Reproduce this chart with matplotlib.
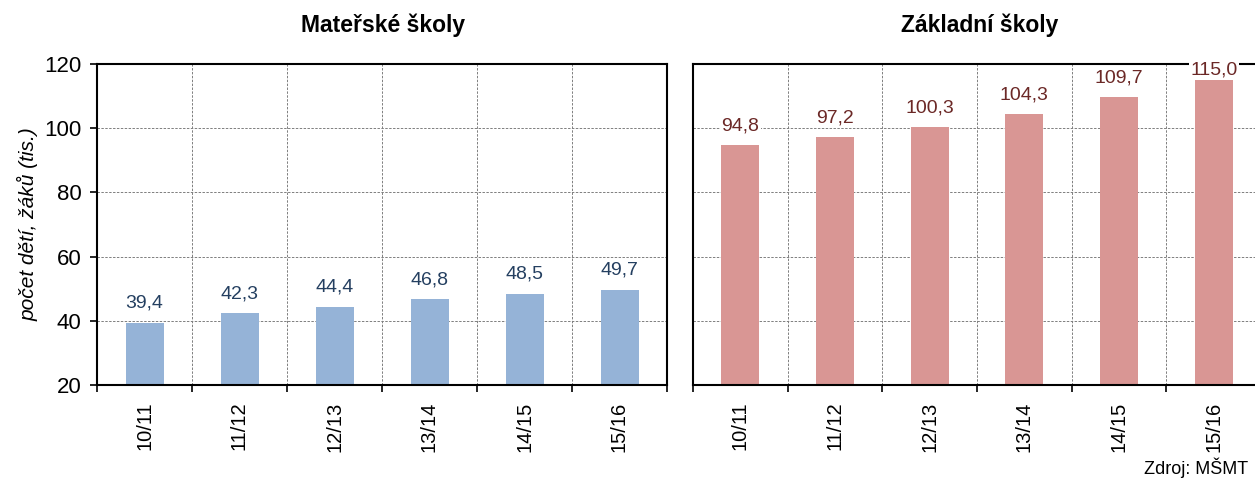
import matplotlib
matplotlib.use("Agg")
import matplotlib.pyplot as plt
import numpy as np

plt.rcParams['font.family'] = ['Liberation Sans', 'DejaVu Sans']

years = ["10/11", "11/12", "12/13", "13/14", "14/15", "15/16"]
ms_values = [39.4, 42.3, 44.4, 46.8, 48.5, 49.7]
zs_values = [94.8, 97.2, 100.3, 104.3, 109.7, 115.0]
titles = ["Mateřské školy", "Základní školy"]
ylabel = "počet dětí, žáků (tis.)"
source = "Zdroj: MŠMT"
yticks = [20, 40, 60, 80, 100, 120]

W, H = 1255, 478
fig = plt.figure(figsize=(W / 100, H / 100), dpi=100)

def box(x0, x1, ytop, ybot):
    return [x0 / W, 1 - ybot / H, (x1 - x0) / W, (ybot - ytop) / H]

ax1 = fig.add_axes(box(97, 667, 64, 385))
ax2 = fig.add_axes(box(693, 1261, 64, 385))

specs = [
    (ax1, ms_values, "#95B3D7", "#243F60", titles[0], 383),
    (ax2, zs_values, "#D99694", "#6B2826", titles[1], 980),
]

x = np.arange(len(years))
for ax, vals, bc, tc, title, tx in specs:
    ax.set_axisbelow(True)
    ax.bar(x, vals, width=0.4, color=bc, zorder=2)
    ax.set_xlim(-0.5, len(years) - 0.5)
    ax.set_ylim(20, 120)
    ax.set_yticks(yticks)
    ax.set_xticks(x)
    ax.set_xticklabels(years, rotation=90, fontsize=14.5)
    ax.set_xticks(np.arange(len(years) + 1) - 0.5, minor=True)
    ax.tick_params(axis='x', which='major', length=0, pad=12)
    ax.tick_params(axis='x', which='minor', length=5, width=1.2, direction='out')
    ax.grid(True, axis='y', which='major', color='#7f7f7f', linestyle=(0, (2.5, 1.5)), linewidth=0.7)
    ax.grid(True, axis='x', which='minor', color='#7f7f7f', linestyle=(0, (2.5, 1.5)), linewidth=0.7)
    for s in ax.spines.values():
        s.set_linewidth(1.5)
        s.set_color('black')
    for xi, v in zip(x, vals):
        ax.text(xi, min(v + 4.6, 116.6), f"{v:.1f}".replace('.', ','),
                ha='center', va='baseline', fontsize=14, color=tc, zorder=5,
                clip_on=False,
                bbox=dict(facecolor='white', edgecolor='none', pad=1.0))
    fig.text(tx / W, 1 - 25 / H, title, ha='center', va='center',
             fontsize=16.5, fontweight='bold')

ax1.tick_params(axis='y', length=5, width=1.2, direction='out', labelsize=16, pad=6)
ax1.set_ylabel(ylabel, fontsize=15, style='italic', labelpad=4)
ax2.tick_params(axis='y', length=0, labelleft=False)
ax2.spines['right'].set_visible(False)

fig.text(1248 / W, 1 - 468 / H, source, ha='right', va='center', fontsize=13)

fig.savefig("out.png", dpi=100)
